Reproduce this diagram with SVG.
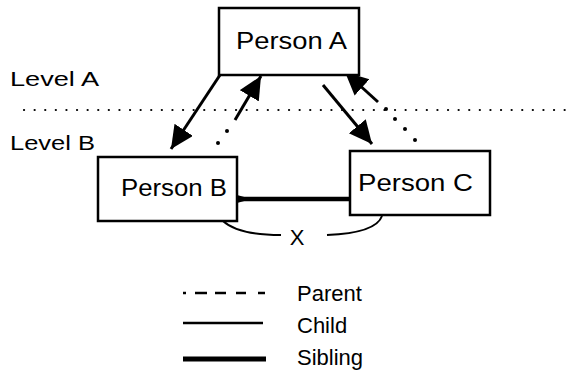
<svg xmlns="http://www.w3.org/2000/svg" width="568" height="375" viewBox="0 0 568 375">
  <style>
    .box { fill: #fff; stroke: #000; stroke-width: 2.5; }
    .lbl { font-family: "Liberation Sans", Arial, sans-serif; font-size: 23px; fill: #000; }
    .small { font-family: "Liberation Sans", Arial, sans-serif; font-size: 21px; fill: #000; }
    .leg { font-family: "Liberation Sans", Arial, sans-serif; font-size: 22px; fill: #000; }
    .child { stroke: #000; stroke-width: 3; fill: none; }
    .parent { stroke: #000; stroke-width: 3; fill: none; }
    .dot { fill: #000; }
    .sib { stroke: #000; stroke-width: 4.5; fill: none; }
    .curve { stroke: #000; stroke-width: 2; fill: none; }
    .level { stroke: #000; stroke-width: 2.2; stroke-dasharray: 0.1 10.5; stroke-linecap: round; fill: none; }
  </style>
  <defs>
    <marker id="head" markerUnits="userSpaceOnUse" markerWidth="26" markerHeight="24" refX="23" refY="11" orient="auto">
      <path d="M0,0 L23,11 L0,22 Z" fill="#000"/>
    </marker>
  </defs>

  <rect width="568" height="375" fill="#fff"/>

  <!-- level labels and divider -->
  <g id="levels">
    <text class="small" x="10" y="86" textLength="89" lengthAdjust="spacingAndGlyphs">Level  A</text>
    <text class="small" x="10" y="150" textLength="85" lengthAdjust="spacingAndGlyphs">Level  B</text>
    <path class="level" d="M24,110 H566"/>
  </g>

  <!-- connectors -->
  <g id="connectors">
    <!-- child: A to B -->
    <path class="child" d="M220,75 L171,149" marker-end="url(#head)"/>
    <!-- parent: B to A -->
    <path class="parent" d="M235,120 L261,76" marker-end="url(#head)"/>
    <circle class="dot" cx="227" cy="131" r="2"/>
    <circle class="dot" cx="218" cy="143" r="2"/>
    <!-- child: A to C -->
    <path class="child" d="M323,85 L372,144" marker-end="url(#head)"/>
    <!-- parent: C to A -->
    <path class="parent" d="M378,102 L345,72" marker-end="url(#head)"/>
    <circle class="dot" cx="386" cy="109" r="2"/>
    <circle class="dot" cx="395" cy="119" r="2"/>
    <circle class="dot" cx="405" cy="129" r="2"/>
    <circle class="dot" cx="415" cy="140" r="2"/>
    <!-- sibling: B to C -->
    <path class="sib" d="M237,199 H351"/>
    <path d="M237,195 L246,197.5 L246,200.5 L237,203 Z" fill="#000"/>
    <!-- relation X between B and C -->
    <path class="curve" d="M223,221 Q238,235 281,235"/>
    <path class="curve" d="M327,235 Q376,233 382,216"/>
  </g>
  <text class="leg" x="297" y="245" text-anchor="middle">X</text>

  <!-- nodes -->
  <g id="personA">
    <rect class="box" x="219" y="8" width="140" height="67"/>
    <text class="lbl" x="236" y="49" textLength="111" lengthAdjust="spacingAndGlyphs">Person  A</text>
  </g>
  <g id="personB">
    <rect class="box" x="98" y="157" width="139" height="64"/>
    <text class="lbl" x="121" y="196" textLength="106" lengthAdjust="spacingAndGlyphs">Person  B</text>
  </g>
  <g id="personC">
    <rect class="box" x="350" y="151" width="140" height="64"/>
    <text class="lbl" x="358" y="191" textLength="115" lengthAdjust="spacingAndGlyphs">Person  C</text>
  </g>

  <!-- legend -->
  <g id="legend">
    <g stroke="#000" stroke-width="2.5">
      <path d="M183,293 H186"/>
      <path d="M195,293 H207"/>
      <path d="M215,293 H226"/>
      <path d="M236,293 H246"/>
      <path d="M258,293 H265"/>
    </g>
    <path d="M183,323 H263" stroke="#000" stroke-width="2.5"/>
    <path d="M183,359 H266" stroke="#000" stroke-width="5"/>
    <text class="leg" x="297" y="301">Parent</text>
    <text class="leg" x="297" y="333">Child</text>
    <text class="leg" x="297" y="365">Sibling</text>
  </g>
</svg>
